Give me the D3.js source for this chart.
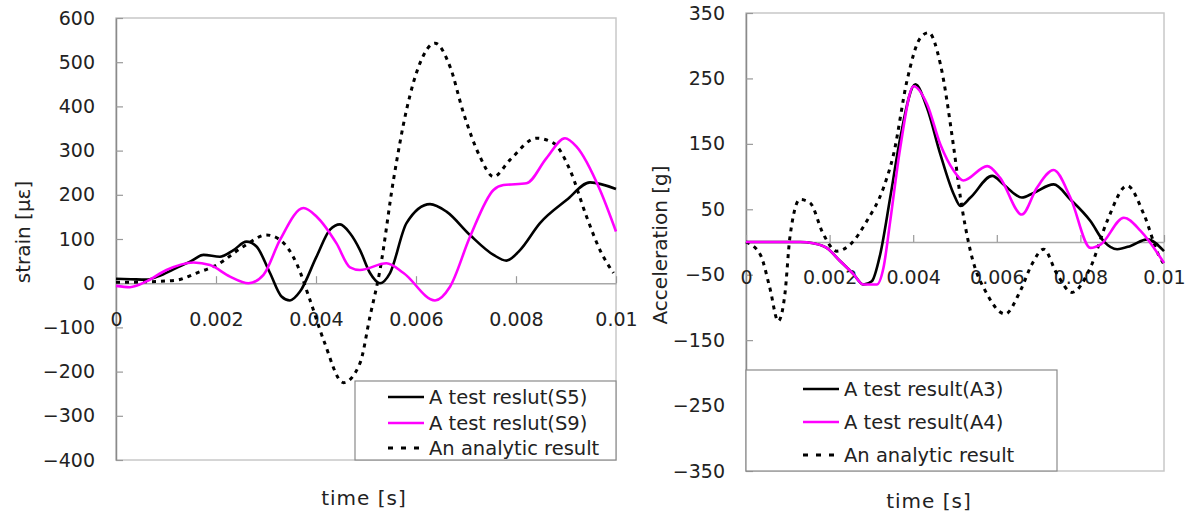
<!DOCTYPE html>
<html>
<head>
<meta charset="utf-8">
<script src="https://cdn.jsdelivr.net/npm/d3@7"></script>
<style>
  body { margin: 0; background: #fff; }
  svg text { font-family: "DejaVu Sans", sans-serif; fill: #222; }
</style>
</head>
<body>
<script>
// strain chart data (time in ms, strain in micro-strain)
var s5Time = [0, 0.3, 0.6, 0.9, 1.2, 1.5, 1.75, 2.08, 2.35, 2.61, 2.81, 3.08, 3.31, 3.48, 3.68, 4.01, 4.28, 4.48, 4.68, 4.88, 5.08, 5.28, 5.48, 5.81, 6.28, 6.61, 7.08, 7.55, 7.81, 8.08, 8.48, 9.01, 9.48, 10];
var s5Value = [10, 9, 8, 18, 34, 50, 64, 60, 75, 94, 83, 23, -30, -39, -19, 60, 121, 133, 113, 75, 23, 0, 23, 136, 179, 162, 109, 64, 51, 75, 136, 188, 228, 213];
var s9Time = [0, 0.28, 0.61, 1.01, 1.55, 1.88, 2.28, 2.65, 2.95, 3.28, 3.75, 4.01, 4.41, 4.68, 4.88, 5.41, 5.75, 6.38, 6.68, 7.08, 7.55, 7.75, 8.21, 8.61, 8.98, 9.21, 9.68, 10];
var s9Value = [-6, -9, 4, 30, 47, 41, 15, 0, 19, 98, 170, 151, 90, 36, 30, 45, 23, -39, -8, 105, 211, 222, 226, 283, 328, 309, 211, 117];
var strainCalcTime = [0, 0.6, 1.21, 1.61, 2.01, 2.55, 3.01, 3.28, 3.61, 3.88, 4.15, 4.55, 4.88, 5.08, 5.28, 5.55, 5.81, 6.08, 6.38, 6.68, 6.95, 7.28, 7.55, 7.88, 8.41, 8.75, 9.08, 9.41, 9.68, 9.95];
var strainCalcValue = [2, 3, 7, 23, 41, 83, 109, 98, 45, -38, -128, -225, -181, -75, 30, 234, 392, 498, 543, 490, 385, 286, 241, 279, 328, 317, 256, 151, 75, 23];

// acceleration chart data (time in ms, acceleration in g)
var a3Time = [0, 1.3, 1.61, 1.93, 2.25, 2.57, 2.81, 3.01, 3.21, 3.45, 3.69, 4.05, 4.33, 4.65, 4.97, 5.13, 5.37, 5.89, 6.16, 6.6, 6.88, 7.36, 7.76, 8.24, 8.56, 8.88, 9.2, 9.6, 10];
var a3Value = [0, 0, -2, -9, -29, -49, -65, -60, -19, 68, 159, 241, 205, 134, 73, 55, 68, 101, 88, 68, 75, 88, 65, 32, 1, -11, -6, 4, -14];
var a4Time = [0, 1.3, 1.61, 1.93, 2.25, 2.57, 2.81, 3.13, 3.29, 3.45, 3.69, 4.01, 4.33, 4.65, 4.97, 5.2, 5.77, 6.08, 6.6, 6.96, 7.36, 7.76, 8.24, 8.48, 9.04, 9.44, 10];
var a4Value = [0, 0, -2, -9, -29, -49, -65, -65, -39, 32, 144, 238, 211, 149, 109, 94, 116, 98, 42, 83, 110, 68, -9, -4, 37, 17, -32];
var accCalcTime = [0, 0.34, 0.57, 0.77, 0.93, 1.05, 1.29, 1.53, 1.85, 2.17, 2.49, 2.89, 3.29, 3.53, 3.85, 4.17, 4.37, 4.65, 4.97, 5.13, 5.37, 5.77, 6.2, 6.56, 6.84, 7.12, 7.44, 7.8, 8.24, 8.64, 9.12, 9.52, 9.88, 10];
var accCalcValue = [0, -19, -70, -121, -80, 7, 65, 60, 12, -14, -4, 32, 83, 134, 246, 312, 320, 272, 144, 68, -14, -80, -110, -75, -34, -11, -49, -77, -39, 32, 86, 42, -21, -34];

var timeTicks = [0, 0.002, 0.004, 0.006, 0.008, 0.01];
var strainTicks = [-400, -300, -200, -100, 0, 100, 200, 300, 400, 500, 600];
var accTicks = [-350, -250, -150, -50, 50, 150, 250, 350];

var strainLegend = ["A test reslut(S5)", "A test reslut(S9)", "An analytic result"];
var accLegend = ["A test result(A3)", "A test result(A4)", "An analytic result"];

var svg = d3.select("body").append("svg").attr("width", 1191).attr("height", 519);

function zip(t, v) {
    return t.map(function(d, i) { return [d / 1000, v[i]]; });
}

function drawChart(opt) {
    var x = d3.scaleLinear().domain([0, 0.01]).range([opt.left, opt.right]);
    var y = d3.scaleLinear().domain(opt.yDomain).range([opt.bottom, opt.top]);
    var g = svg.append("g");

    // frame
    g.append("rect")
        .attr("x", opt.left).attr("y", opt.top)
        .attr("width", opt.right - opt.left).attr("height", opt.bottom - opt.top)
        .style("fill", "none").style("stroke", "#c8c8c8").style("stroke-width", 1.5);

    // y axis
    var yAxis = g.append("g")
        .attr("transform", "translate(" + opt.left + ",0)")
        .call(d3.axisLeft(y).tickValues(opt.yTicks).tickSizeInner(-7).tickSizeOuter(0).tickPadding(21)
            .tickFormat(function(d) { return d < 0 ? "\u2212" + Math.abs(d) : d; }));
    yAxis.select(".domain").style("stroke", "#8a8a8a").style("stroke-width", 1.5);
    yAxis.selectAll(".tick line").style("stroke", "#999").style("stroke-width", 1.2);
    yAxis.selectAll("text").style("font-size", "19px").style("fill", "#222");

    // x axis on the zero line
    var xAxis = g.append("g")
        .attr("transform", "translate(0," + y(0) + ")")
        .call(d3.axisBottom(x).tickValues(timeTicks).tickSizeInner(-7).tickSizeOuter(0).tickPadding(29)
            .tickFormat(function(d) { return d === 0 ? "0" : String(+d.toFixed(3)); }));
    xAxis.select(".domain").style("stroke", "#a8a8a8").style("stroke-width", 1.5);
    xAxis.selectAll(".tick line").style("stroke", "#999").style("stroke-width", 1.2);
    xAxis.selectAll("text").style("font-size", "19px").style("fill", "#222");

    var line = d3.line()
        .x(function(d) { return x(d[0]); })
        .y(function(d) { return y(d[1]); })
        .curve(d3.curveMonotoneX);

    var series = [
        { data: zip(opt.t1, opt.v1), color: "#000", dash: null, width: 2.6 },
        { data: zip(opt.t2, opt.v2), color: "#ff00ff", dash: null, width: 2.6 },
        { data: zip(opt.t3, opt.v3), color: "#000", dash: "4,5", width: 3 }
    ];
    // dotted line below the test curves
    [series[2], series[0], series[1]].forEach(function(s) {
        g.append("path")
            .datum(s.data)
            .attr("d", line)
            .style("fill", "none")
            .style("stroke", s.color)
            .style("stroke-width", s.width)
            .style("stroke-dasharray", s.dash);
    });

    // legend
    var lg = opt.legend;
    g.append("rect")
        .attr("x", lg.x).attr("y", lg.y).attr("width", lg.w).attr("height", lg.h)
        .style("fill", "#fff").style("stroke", "#8a8a8a").style("stroke-width", 1.2);
    opt.names.forEach(function(name, i) {
        var s = series[i];
        var ry = lg.rowY[i];
        g.append("line")
            .attr("x1", lg.lineX).attr("x2", lg.lineX + 36)
            .attr("y1", ry).attr("y2", ry)
            .style("stroke", s.color)
            .style("stroke-width", i == 2 ? 3 : 2.6)
            .style("stroke-dasharray", i == 2 ? "5,8" : null);
        g.append("text")
            .attr("x", lg.lineX + 41).attr("y", ry + 7)
            .style("font-size", "19.5px")
            .text(name);
    });

    // axis titles
    g.append("text")
        .attr("transform", "translate(" + opt.yTitleX + "," + opt.yTitleY + ") rotate(-90)")
        .attr("text-anchor", "middle")
        .style("font-size", "20px")
        .text(opt.yTitle);
    g.append("text")
        .attr("x", opt.xTitleX).attr("y", opt.xTitleY)
        .attr("text-anchor", "middle")
        .style("font-size", "20px")
        .style("letter-spacing", "1px")
        .text("time [s]");
}

drawChart({
    left: 116, right: 616, top: 18, bottom: 460,
    yDomain: [-400, 600], yTicks: strainTicks,
    t1: s5Time, v1: s5Value, t2: s9Time, v2: s9Value, t3: strainCalcTime, v3: strainCalcValue,
    names: strainLegend,
    legend: { x: 355, y: 381, w: 261, h: 79, lineX: 388, rowY: [397, 423, 448] },
    yTitle: "strain [\u03bc\u03b5]", yTitleX: 30, yTitleY: 232,
    xTitleX: 364, xTitleY: 505
});

drawChart({
    left: 746, right: 1164, top: 13, bottom: 471,
    yDomain: [-350, 350], yTicks: accTicks,
    t1: a3Time, v1: a3Value, t2: a4Time, v2: a4Value, t3: accCalcTime, v3: accCalcValue,
    names: accLegend,
    legend: { x: 746, y: 370, w: 311, h: 101, lineX: 803, rowY: [389, 422, 455] },
    yTitle: "Acceleration [g]", yTitleX: 667, yTitleY: 245,
    xTitleX: 929, xTitleY: 508
});
</script>
</body>
</html>
